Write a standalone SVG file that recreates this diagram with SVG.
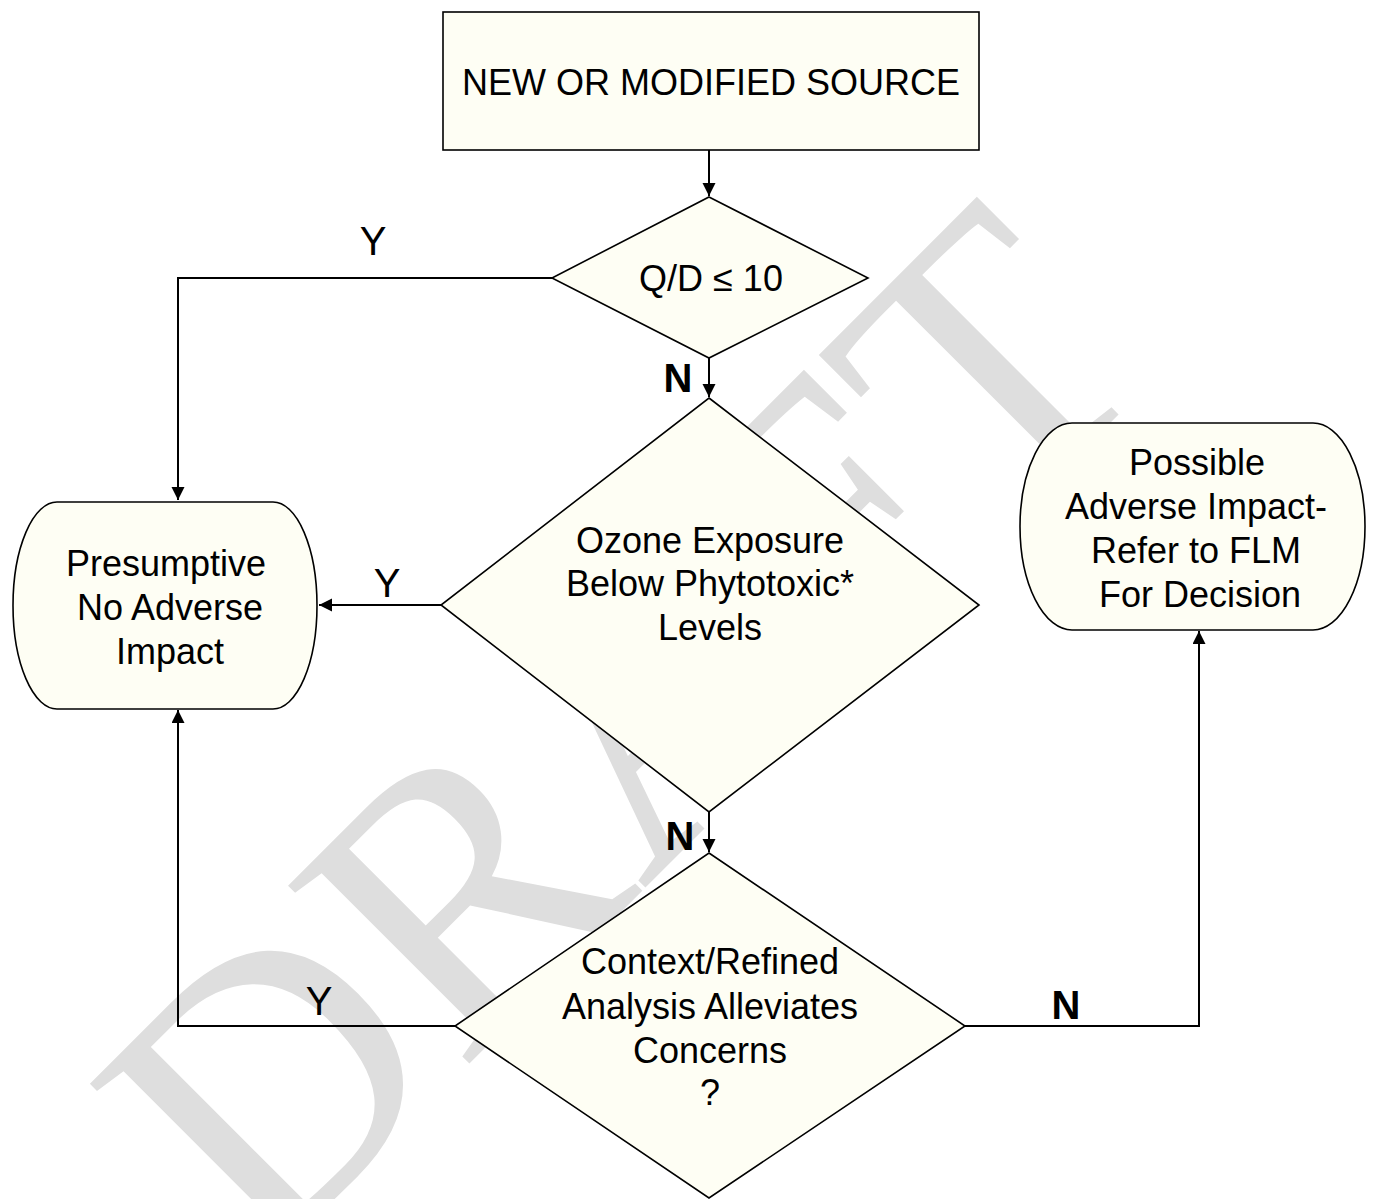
<svg xmlns="http://www.w3.org/2000/svg" width="1376" height="1199" viewBox="0 0 1376 1199">
  <defs>
    <marker id="arr" markerUnits="userSpaceOnUse" markerWidth="14" markerHeight="14" refX="13" refY="6.5" orient="auto">
      <path d="M0,0 L13,6.5 L0,13 Z" fill="#000"/>
    </marker>
  </defs>
  <style>
    .node { fill: #fefef4; stroke: #000; stroke-width: 1.6; }
    .txt { font-family: "Liberation Sans", Arial, sans-serif; font-size: 36px; fill: #000; text-anchor: middle; }
    .lbl { font-family: "Liberation Sans", Arial, sans-serif; font-size: 40px; fill: #000; text-anchor: middle; }
    .lblb { font-weight: bold; }
    .conn { fill: none; stroke: #000; stroke-width: 2; }
    .wm { font-family: "Liberation Serif", "Times New Roman", serif; font-size: 388px; fill: #dedede; }
  </style>
  <rect width="1376" height="1199" fill="#fff"/>
  <g id="watermark">
    <text class="wm" transform="rotate(-45)" x="-714" y="1084">DRAFT</text>
  </g>
  <g id="connectors">
    <path class="conn" d="M709,150 L709,196" marker-end="url(#arr)"/>
    <path class="conn" d="M552,278 L178,278 L178,500" marker-end="url(#arr)"/>
    <path class="conn" d="M709,358 L709,397" marker-end="url(#arr)"/>
    <path class="conn" d="M442,605 L319,605" marker-end="url(#arr)"/>
    <path class="conn" d="M709,812 L709,852" marker-end="url(#arr)"/>
    <path class="conn" d="M455,1026 L178,1026 L178,710" marker-end="url(#arr)"/>
    <path class="conn" d="M965,1026 L1199,1026 L1199,631" marker-end="url(#arr)"/>
    <text class="lbl" x="373" y="255">Y</text>
    <text class="lbl lblb" x="678" y="392">N</text>
    <text class="lbl" x="387" y="597">Y</text>
    <text class="lbl lblb" x="680" y="850">N</text>
    <text class="lbl" x="319" y="1015">Y</text>
    <text class="lbl lblb" x="1066" y="1019">N</text>
  </g>
  <g id="source">
    <rect class="node" x="443" y="12" width="536" height="138"/>
    <text class="txt" x="711" y="95">NEW OR MODIFIED SOURCE</text>
  </g>
  <g id="qd">
    <polygon class="node" points="709,197 868,278 709,358 552,278"/>
    <text class="txt" x="711" y="291">Q/D ≤ 10</text>
  </g>
  <g id="ozone">
    <polygon class="node" points="709,398 979,605 709,812 441,605"/>
    <text class="txt" x="710" y="553">Ozone Exposure</text>
    <text class="txt" x="710" y="596">Below Phytotoxic*</text>
    <text class="txt" x="710" y="640">Levels</text>
  </g>
  <g id="context">
    <polygon class="node" points="709,853 965,1026 709,1198 455,1026"/>
    <text class="txt" x="710" y="974">Context/Refined</text>
    <text class="txt" x="710" y="1019">Analysis Alleviates</text>
    <text class="txt" x="710" y="1063">Concerns</text>
    <text class="txt" x="710" y="1105">?</text>
  </g>
  <g id="presumptive">
    <path class="node" d="M57,502 L273,502 A44,103.5 0 0 1 317,605.5 A44,103.5 0 0 1 273,709 L57,709 A44,103.5 0 0 1 13,605.5 A44,103.5 0 0 1 57,502 Z"/>
    <text class="txt" x="166" y="576">Presumptive</text>
    <text class="txt" x="170" y="620">No Adverse</text>
    <text class="txt" x="170" y="664">Impact</text>
  </g>
  <g id="possible">
    <path class="node" d="M1072,423 L1313,423 A52,103.5 0 0 1 1365,526.5 A52,103.5 0 0 1 1313,630 L1072,630 A52,103.5 0 0 1 1020,526.5 A52,103.5 0 0 1 1072,423 Z"/>
    <text class="txt" x="1197" y="475">Possible</text>
    <text class="txt" x="1196" y="519">Adverse Impact-</text>
    <text class="txt" x="1196" y="563">Refer to FLM</text>
    <text class="txt" x="1200" y="607">For Decision</text>
  </g>
</svg>
